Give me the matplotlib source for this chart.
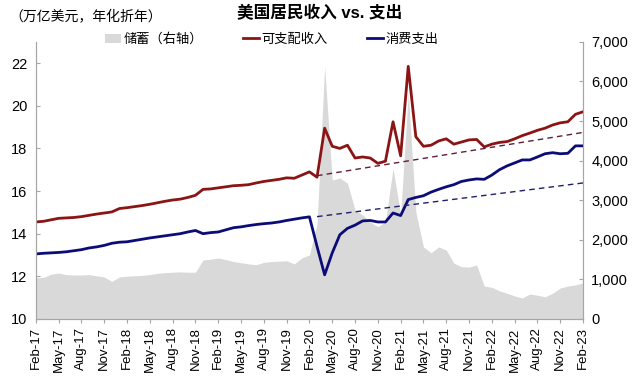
import matplotlib
matplotlib.use("Agg")
import matplotlib.pyplot as plt
import numpy as np
import pandas as pd
from matplotlib.patches import Patch
from matplotlib.lines import Line2D

plt.rcParams['font.family'] = ['Liberation Sans', 'Noto Sans CJK SC']

# ---------------- data ----------------
months = pd.date_range('2017-02-01', periods=73, freq='MS').strftime('%b-%y').tolist()

income = [14.55, 14.58, 14.65, 14.72, 14.74, 14.76, 14.80, 14.86, 14.92, 14.97,
          15.02, 15.18, 15.22, 15.27, 15.32, 15.38, 15.45, 15.52, 15.58, 15.62,
          15.70, 15.80, 16.08, 16.10, 16.15, 16.20, 16.25, 16.27, 16.30, 16.38,
          16.45, 16.50, 16.55, 16.62, 16.60, 16.75, 16.90, 16.65, 18.95, 18.10,
          18.00, 18.15, 17.55, 17.60, 17.55, 17.30, 17.40, 19.25, 17.65, 21.85,
          18.55, 18.10, 18.15, 18.35, 18.45, 18.20, 18.30, 18.40, 18.42, 18.07,
          18.20, 18.28, 18.32, 18.45, 18.60, 18.72, 18.85, 18.95, 19.10, 19.20,
          19.25, 19.60, 19.72]

spending = [13.05, 13.08, 13.10, 13.12, 13.15, 13.20, 13.25, 13.33, 13.38, 13.45,
            13.55, 13.60, 13.62, 13.68, 13.74, 13.80, 13.85, 13.90, 13.95, 14.00,
            14.08, 14.15, 14.00, 14.05, 14.08, 14.18, 14.28, 14.32, 14.38, 14.43,
            14.47, 14.50, 14.55, 14.62, 14.68, 14.74, 14.79, 13.40, 12.07, 13.10,
            13.95, 14.25, 14.40, 14.60, 14.62, 14.55, 14.55, 14.97, 14.85, 15.60,
            15.70, 15.78, 15.95, 16.08, 16.20, 16.30, 16.45, 16.52, 16.57, 16.55,
            16.75, 17.00, 17.18, 17.32, 17.46, 17.46, 17.60, 17.75, 17.80, 17.75,
            17.77, 18.12, 18.12]

saving = [1040, 1050, 1130, 1160, 1120, 1110, 1110, 1120, 1090, 1060,
          950, 1060, 1080, 1090, 1100, 1120, 1150, 1170, 1180, 1190,
          1180, 1180, 1490, 1510, 1540, 1500, 1450, 1420, 1390, 1370,
          1430, 1450, 1460, 1470, 1390, 1540, 1620, 2400, 6380, 3510,
          3560, 3430, 2750, 2630, 2450, 2330, 2450, 3810, 2630, 5710,
          2700, 1820, 1670, 1820, 1740, 1410, 1320, 1310, 1360, 830,
          800, 710, 650, 580, 530, 630, 600, 560, 650, 780,
          830, 860, 910]

# pre-COVID trend extrapolations (Mar-20 to Feb-23)
trend_months = ['Mar-20', 'Feb-23']
income_trend = [16.72, 18.75]
spending_trend = [14.80, 16.38]

# ---------------- style ----------------
c_inc = '#8B1414'
c_spd = '#0C0C78'
c_sav = '#D9D9D9'
c_spine = '#A6A6A6'

fig = plt.figure(figsize=(6.4, 3.77), dpi=100)
ax = fig.add_axes([0.056, 0.154, 0.855, 0.735])
ax2 = ax.twinx()
ax.set_zorder(ax2.get_zorder() + 1)
ax.patch.set_visible(False)

x = np.arange(len(months))
ax2.fill_between(x, saving, 0, color=c_sav, linewidth=0)
ax.plot(x, income, color=c_inc, lw=2.0, solid_joinstyle='round')
ax.plot(x, spending, color=c_spd, lw=2.0, solid_joinstyle='round')
tx = [months.index(m) for m in trend_months]
ax.plot(tx, income_trend, color='#5E1E3C', lw=1.0, ls=(0, (4, 3)))
ax.plot(tx, spending_trend, color='#1F1F6E', lw=1.0, ls=(0, (4, 3)))

ax.set_xlim(0, len(months) - 1)
ax.set_ylim(10, 23)
ax.set_yticks(np.arange(10, 23, 2))
ax2.set_ylim(0, 7000)
ax2.set_yticks(np.arange(0, 7001, 1000))
ax2.set_yticklabels([f'{v:,}' for v in range(0, 7001, 1000)])

ax.set_xticks(x[::3])
ax.set_xticklabels(months[::3], rotation=90, fontsize=9.5)

for a in (ax, ax2):
    for s in a.spines.values():
        s.set_color(c_spine)
    a.spines['top'].set_visible(False)
ax.tick_params(axis='y', direction='in', length=3, color=c_spine, labelsize=10.5, pad=6)
ax2.tick_params(axis='y', direction='in', length=3, color=c_spine, labelsize=10.5, pad=6)
ax.tick_params(axis='x', direction='out', length=3, color=c_spine, pad=3)

fig.text(0.5, 0.965, '美国居民收入 vs. 支出', ha='center', va='center',
         fontsize=12, fontweight='bold')
fig.text(0.015, 0.955, '（万亿美元，年化折年）', ha='left', va='center', fontsize=10)

handles = [Patch(facecolor=c_sav, edgecolor='none'),
           Line2D([], [], color=c_inc, lw=2.0),
           Line2D([], [], color=c_spd, lw=2.0)]
labels = ['储蓄（右轴）', '可支配收入', '消费支出']
fig.legend(handles, labels, loc='center', bbox_to_anchor=(0.425, 0.895), ncol=3,
           frameon=False, fontsize=9.5, handlelength=1.2, handletextpad=0.2,
           columnspacing=3.0)

fig.savefig('out.png', dpi=100)
